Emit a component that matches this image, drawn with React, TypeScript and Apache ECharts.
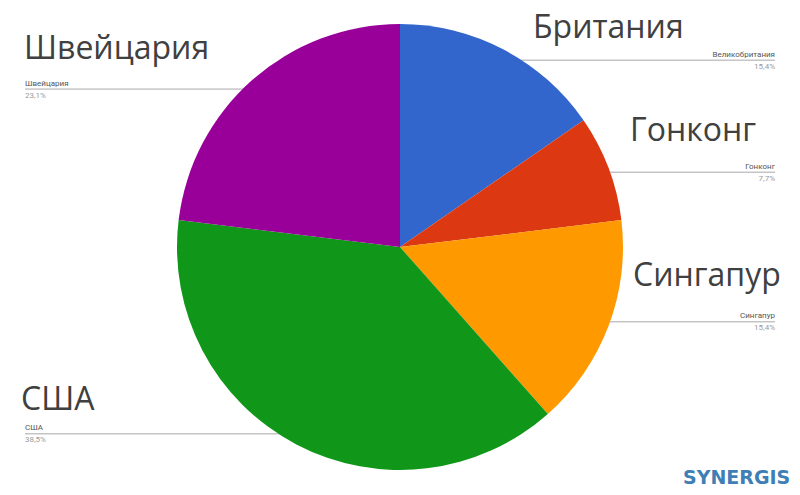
import React, { useEffect, useRef } from "react";
import * as echarts from "echarts";

const categories = ["Великобритания", "Гонконг", "Сингапур", "США", "Швейцария"];
const values = [2, 1, 2, 5, 3];
const colors = ["#3366cc", "#dc3912", "#ff9900", "#109618", "#990099"];
const bigLabels = ["Британия", "Гонконг", "Сингапур", "США", "Швейцария"];

export default function App() {
  const ref = useRef<HTMLDivElement>(null);
  useEffect(() => {
    const chart = echarts.init(ref.current!, undefined, { renderer: "svg" });
    const data = categories.map((name, i) => ({ name, value: values[i] }));
    const bigFont = { fontFamily: "Open Sans", fontSize: 32, fill: "#404040" };
    chart.setOption({
      animation: false,
      color: colors,
      series: [
        {
          type: "pie",
          center: [400, 247],
          radius: 223,
          startAngle: 90,
          clockwise: true,
          label: { show: false },
          labelLine: { show: false },
          silent: true,
          data,
        },
        {
          type: "pie",
          center: [400, 247],
          radius: 211,
          startAngle: 90,
          clockwise: true,
          silent: true,
          itemStyle: { color: "rgba(0,0,0,0)" },
          label: {
            show: true,
            position: "outer",
            alignTo: "edge",
            edgeDistance: 25,
            formatter: (p: any) =>
              `{n|${p.name}}\n{p|${p.percent.toFixed(1).replace(".", ",")}%}`,
            rich: {
              n: { fontFamily: "Roboto", fontSize: 8, color: "#555", lineHeight: 12 },
              p: { fontFamily: "Roboto", fontSize: 8, color: "#9a9a9a", lineHeight: 12 },
            },
          },
          labelLine: {
            show: true,
            length: 0,
            length2: 10,
            smooth: false,
            lineStyle: { color: "#a8a8a8", width: 1 },
          },
          labelLayout: (params: any) => {
            const pts = params.labelLinePoints;
            const r = params.labelRect;
            if (!pts || !r) return {};
            const last = pts[pts.length - 1];
            const isRight = last[0] > pts[0][0];
            const newPts = pts.map((p: number[]) => [p[0], p[1]]);
            newPts[newPts.length - 1] = [isRight ? r.x + r.width : r.x, last[1]];
            return { labelLinePoints: newPts };
          },
          data,
        },
      ],
      graphic: [
        { type: "text", x: 533, y: 25, style: { ...bigFont, text: bigLabels[0], verticalAlign: "middle" } },
        { type: "text", x: 630, y: 128, style: { ...bigFont, text: bigLabels[1], verticalAlign: "middle" } },
        { type: "text", x: 633, y: 273, style: { ...bigFont, text: bigLabels[2], verticalAlign: "middle" } },
        { type: "text", x: 21, y: 397, style: { ...bigFont, text: bigLabels[3], verticalAlign: "middle" } },
        { type: "text", x: 24, y: 46, style: { ...bigFont, text: bigLabels[4], verticalAlign: "middle" } },
        {
          type: "text",
          x: 683,
          y: 477,
          style: {
            text: "SYNERGIS",
            fontFamily: "DejaVu Sans",
            fontWeight: "bold",
            fontSize: 19,
            fill: "#3f7fb5",
            verticalAlign: "middle",
          },
        },
      ],
    });
    return () => chart.dispose();
  }, []);
  return <div ref={ref} style={{ width: 800, height: 495, position: "absolute", left: 0, top: 0 }} />;
}
